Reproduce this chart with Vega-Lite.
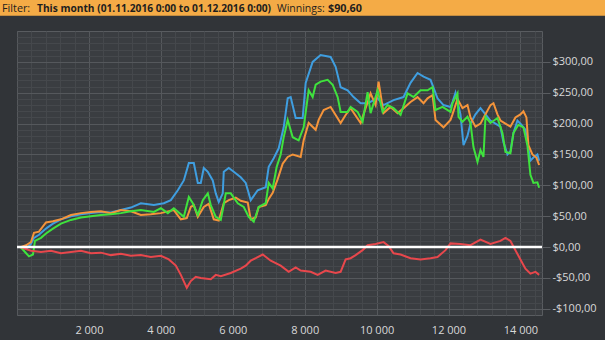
{
  "$schema": "https://vega.github.io/schema/vega-lite/v6.json",
  "width": 525,
  "height": 284,
  "autosize": {"type": "none"},
  "padding": {"left": 17, "top": 31, "right": 63, "bottom": 25},
  "background": "#313438",
  "config": {
    "view": {"fill": "#3a3d41", "stroke": "#595c60", "strokeWidth": 1},
    "font": "Open Sans"
  },
  "datasets": {
    "series": [
      {"s":"blue","x":100,"v":0},{"s":"blue","x":250,"v":-3},{"s":"blue","x":389,"v":5},{"s":"blue","x":472,"v":15},{"s":"blue","x":611,"v":20},{"s":"blue","x":806,"v":30},{"s":"blue","x":1000,"v":38},{"s":"blue","x":1222,"v":45},{"s":"blue","x":1500,"v":50},{"s":"blue","x":1778,"v":53},{"s":"blue","x":2056,"v":55},{"s":"blue","x":2333,"v":57},{"s":"blue","x":2611,"v":56},{"s":"blue","x":2889,"v":60},{"s":"blue","x":3167,"v":64},{"s":"blue","x":3444,"v":71},{"s":"blue","x":3806,"v":68},{"s":"blue","x":4083,"v":71},{"s":"blue","x":4278,"v":76},{"s":"blue","x":4472,"v":92},{"s":"blue","x":4639,"v":108},{"s":"blue","x":4778,"v":136},{"s":"blue","x":4917,"v":136},{"s":"blue","x":5028,"v":104},{"s":"blue","x":5111,"v":104},{"s":"blue","x":5194,"v":128},{"s":"blue","x":5306,"v":122},{"s":"blue","x":5444,"v":108},{"s":"blue","x":5528,"v":87},{"s":"blue","x":5611,"v":73},{"s":"blue","x":5722,"v":87},{"s":"blue","x":5750,"v":122},{"s":"blue","x":5889,"v":128},{"s":"blue","x":6028,"v":122},{"s":"blue","x":6222,"v":113},{"s":"blue","x":6361,"v":104},{"s":"blue","x":6500,"v":76},{"s":"blue","x":6694,"v":92},{"s":"blue","x":6917,"v":97},{"s":"blue","x":7000,"v":130},{"s":"blue","x":7139,"v":144},{"s":"blue","x":7278,"v":160},{"s":"blue","x":7417,"v":194},{"s":"blue","x":7528,"v":241},{"s":"blue","x":7611,"v":243},{"s":"blue","x":7750,"v":209},{"s":"blue","x":7944,"v":209},{"s":"blue","x":8028,"v":266},{"s":"blue","x":8222,"v":300},{"s":"blue","x":8444,"v":311},{"s":"blue","x":8722,"v":308},{"s":"blue","x":8861,"v":292},{"s":"blue","x":9000,"v":259},{"s":"blue","x":9194,"v":254},{"s":"blue","x":9361,"v":243},{"s":"blue","x":9556,"v":233},{"s":"blue","x":9750,"v":233},{"s":"blue","x":10028,"v":241},{"s":"blue","x":10194,"v":230},{"s":"blue","x":10472,"v":238},{"s":"blue","x":10750,"v":243},{"s":"blue","x":10944,"v":266},{"s":"blue","x":11139,"v":282},{"s":"blue","x":11306,"v":276},{"s":"blue","x":11500,"v":271},{"s":"blue","x":11694,"v":241},{"s":"blue","x":11861,"v":230},{"s":"blue","x":12056,"v":227},{"s":"blue","x":12111,"v":235},{"s":"blue","x":12194,"v":250},{"s":"blue","x":12333,"v":215},{"s":"blue","x":12417,"v":165},{"s":"blue","x":12528,"v":180},{"s":"blue","x":12611,"v":200},{"s":"blue","x":12750,"v":215},{"s":"blue","x":12889,"v":225},{"s":"blue","x":13028,"v":215},{"s":"blue","x":13167,"v":205},{"s":"blue","x":13306,"v":200},{"s":"blue","x":13444,"v":195},{"s":"blue","x":13528,"v":170},{"s":"blue","x":13639,"v":150},{"s":"blue","x":13722,"v":155},{"s":"blue","x":13806,"v":185},{"s":"blue","x":13917,"v":205},{"s":"blue","x":14000,"v":200},{"s":"blue","x":14139,"v":190},{"s":"blue","x":14194,"v":170},{"s":"blue","x":14278,"v":140},{"s":"blue","x":14361,"v":145},{"s":"blue","x":14472,"v":150},{"s":"blue","x":14520,"v":140},
      {"s":"orange","x":100,"v":0},{"s":"orange","x":250,"v":3},{"s":"orange","x":389,"v":8},{"s":"orange","x":472,"v":23},{"s":"orange","x":611,"v":25},{"s":"orange","x":806,"v":40},{"s":"orange","x":1000,"v":42},{"s":"orange","x":1222,"v":45},{"s":"orange","x":1500,"v":52},{"s":"orange","x":1778,"v":55},{"s":"orange","x":2056,"v":57},{"s":"orange","x":2333,"v":58},{"s":"orange","x":2611,"v":55},{"s":"orange","x":2889,"v":60},{"s":"orange","x":3167,"v":58},{"s":"orange","x":3444,"v":52},{"s":"orange","x":3722,"v":53},{"s":"orange","x":4000,"v":55},{"s":"orange","x":4361,"v":60},{"s":"orange","x":4556,"v":45},{"s":"orange","x":4722,"v":47},{"s":"orange","x":4833,"v":65},{"s":"orange","x":4917,"v":68},{"s":"orange","x":5028,"v":49},{"s":"orange","x":5194,"v":65},{"s":"orange","x":5333,"v":70},{"s":"orange","x":5472,"v":45},{"s":"orange","x":5611,"v":43},{"s":"orange","x":5750,"v":71},{"s":"orange","x":5889,"v":76},{"s":"orange","x":6083,"v":80},{"s":"orange","x":6222,"v":75},{"s":"orange","x":6417,"v":72},{"s":"orange","x":6500,"v":45},{"s":"orange","x":6639,"v":48},{"s":"orange","x":6722,"v":65},{"s":"orange","x":6917,"v":68},{"s":"orange","x":7000,"v":78},{"s":"orange","x":7111,"v":88},{"s":"orange","x":7250,"v":110},{"s":"orange","x":7389,"v":135},{"s":"orange","x":7528,"v":146},{"s":"orange","x":7667,"v":150},{"s":"orange","x":7889,"v":146},{"s":"orange","x":7972,"v":173},{"s":"orange","x":8111,"v":201},{"s":"orange","x":8306,"v":190},{"s":"orange","x":8389,"v":206},{"s":"orange","x":8528,"v":222},{"s":"orange","x":8722,"v":227},{"s":"orange","x":8861,"v":214},{"s":"orange","x":9000,"v":201},{"s":"orange","x":9139,"v":214},{"s":"orange","x":9278,"v":225},{"s":"orange","x":9556,"v":201},{"s":"orange","x":9833,"v":249},{"s":"orange","x":9972,"v":230},{"s":"orange","x":10056,"v":268},{"s":"orange","x":10194,"v":217},{"s":"orange","x":10389,"v":227},{"s":"orange","x":10583,"v":217},{"s":"orange","x":10750,"v":225},{"s":"orange","x":10944,"v":235},{"s":"orange","x":11139,"v":243},{"s":"orange","x":11306,"v":233},{"s":"orange","x":11417,"v":241},{"s":"orange","x":11556,"v":246},{"s":"orange","x":11639,"v":206},{"s":"orange","x":11861,"v":194},{"s":"orange","x":12056,"v":206},{"s":"orange","x":12111,"v":215},{"s":"orange","x":12250,"v":240},{"s":"orange","x":12389,"v":225},{"s":"orange","x":12528,"v":230},{"s":"orange","x":12611,"v":210},{"s":"orange","x":12750,"v":195},{"s":"orange","x":12889,"v":200},{"s":"orange","x":13028,"v":215},{"s":"orange","x":13167,"v":230},{"s":"orange","x":13250,"v":233},{"s":"orange","x":13361,"v":215},{"s":"orange","x":13444,"v":205},{"s":"orange","x":13583,"v":200},{"s":"orange","x":13722,"v":195},{"s":"orange","x":13861,"v":210},{"s":"orange","x":14000,"v":215},{"s":"orange","x":14083,"v":220},{"s":"orange","x":14167,"v":210},{"s":"orange","x":14222,"v":165},{"s":"orange","x":14333,"v":150},{"s":"orange","x":14444,"v":145},{"s":"orange","x":14520,"v":133},
      {"s":"green","x":100,"v":0},{"s":"green","x":222,"v":-8},{"s":"green","x":333,"v":-15},{"s":"green","x":444,"v":-12},{"s":"green","x":500,"v":10},{"s":"green","x":667,"v":15},{"s":"green","x":806,"v":22},{"s":"green","x":1000,"v":30},{"s":"green","x":1222,"v":38},{"s":"green","x":1500,"v":44},{"s":"green","x":1778,"v":48},{"s":"green","x":2056,"v":50},{"s":"green","x":2333,"v":52},{"s":"green","x":2611,"v":53},{"s":"green","x":2889,"v":55},{"s":"green","x":3167,"v":58},{"s":"green","x":3444,"v":60},{"s":"green","x":3806,"v":57},{"s":"green","x":4000,"v":63},{"s":"green","x":4194,"v":55},{"s":"green","x":4361,"v":63},{"s":"green","x":4639,"v":49},{"s":"green","x":4778,"v":81},{"s":"green","x":4889,"v":71},{"s":"green","x":5028,"v":52},{"s":"green","x":5167,"v":76},{"s":"green","x":5306,"v":87},{"s":"green","x":5389,"v":68},{"s":"green","x":5528,"v":49},{"s":"green","x":5667,"v":44},{"s":"green","x":5722,"v":60},{"s":"green","x":5806,"v":87},{"s":"green","x":5944,"v":87},{"s":"green","x":6139,"v":71},{"s":"green","x":6306,"v":65},{"s":"green","x":6444,"v":49},{"s":"green","x":6583,"v":41},{"s":"green","x":6722,"v":65},{"s":"green","x":6917,"v":71},{"s":"green","x":7000,"v":104},{"s":"green","x":7111,"v":95},{"s":"green","x":7222,"v":130},{"s":"green","x":7333,"v":150},{"s":"green","x":7417,"v":178},{"s":"green","x":7528,"v":206},{"s":"green","x":7667,"v":178},{"s":"green","x":7833,"v":173},{"s":"green","x":7972,"v":194},{"s":"green","x":8111,"v":254},{"s":"green","x":8222,"v":243},{"s":"green","x":8306,"v":263},{"s":"green","x":8444,"v":268},{"s":"green","x":8639,"v":271},{"s":"green","x":8778,"v":263},{"s":"green","x":8917,"v":243},{"s":"green","x":9000,"v":219},{"s":"green","x":9194,"v":219},{"s":"green","x":9278,"v":227},{"s":"green","x":9472,"v":219},{"s":"green","x":9611,"v":203},{"s":"green","x":9750,"v":251},{"s":"green","x":9833,"v":217},{"s":"green","x":10028,"v":254},{"s":"green","x":10167,"v":219},{"s":"green","x":10306,"v":230},{"s":"green","x":10472,"v":225},{"s":"green","x":10667,"v":214},{"s":"green","x":10861,"v":249},{"s":"green","x":11028,"v":243},{"s":"green","x":11222,"v":254},{"s":"green","x":11417,"v":254},{"s":"green","x":11556,"v":259},{"s":"green","x":11639,"v":222},{"s":"green","x":11833,"v":227},{"s":"green","x":12056,"v":219},{"s":"green","x":12111,"v":233},{"s":"green","x":12250,"v":249},{"s":"green","x":12278,"v":211},{"s":"green","x":12389,"v":203},{"s":"green","x":12528,"v":211},{"s":"green","x":12611,"v":201},{"s":"green","x":12694,"v":162},{"s":"green","x":12806,"v":138},{"s":"green","x":12889,"v":157},{"s":"green","x":12972,"v":146},{"s":"green","x":13028,"v":211},{"s":"green","x":13167,"v":201},{"s":"green","x":13361,"v":209},{"s":"green","x":13500,"v":185},{"s":"green","x":13583,"v":154},{"s":"green","x":13722,"v":152},{"s":"green","x":13806,"v":185},{"s":"green","x":13944,"v":198},{"s":"green","x":14083,"v":194},{"s":"green","x":14194,"v":165},{"s":"green","x":14278,"v":117},{"s":"green","x":14361,"v":104},{"s":"green","x":14472,"v":105},{"s":"green","x":14520,"v":96},
      {"s":"red","x":100,"v":0},{"s":"red","x":250,"v":-3},{"s":"red","x":389,"v":-6},{"s":"red","x":667,"v":-8},{"s":"red","x":944,"v":-6},{"s":"red","x":1222,"v":-10},{"s":"red","x":1500,"v":-8},{"s":"red","x":1778,"v":-6},{"s":"red","x":2056,"v":-10},{"s":"red","x":2333,"v":-9},{"s":"red","x":2611,"v":-13},{"s":"red","x":2889,"v":-11},{"s":"red","x":3167,"v":-14},{"s":"red","x":3444,"v":-13},{"s":"red","x":3722,"v":-16},{"s":"red","x":4000,"v":-14},{"s":"red","x":4222,"v":-20},{"s":"red","x":4417,"v":-30},{"s":"red","x":4556,"v":-45},{"s":"red","x":4722,"v":-66},{"s":"red","x":4833,"v":-55},{"s":"red","x":4972,"v":-48},{"s":"red","x":5111,"v":-50},{"s":"red","x":5389,"v":-52},{"s":"red","x":5528,"v":-45},{"s":"red","x":5667,"v":-47},{"s":"red","x":5944,"v":-42},{"s":"red","x":6222,"v":-35},{"s":"red","x":6361,"v":-30},{"s":"red","x":6500,"v":-22},{"s":"red","x":6639,"v":-18},{"s":"red","x":6833,"v":-12},{"s":"red","x":7056,"v":-22},{"s":"red","x":7333,"v":-30},{"s":"red","x":7556,"v":-40},{"s":"red","x":7750,"v":-33},{"s":"red","x":7889,"v":-38},{"s":"red","x":8167,"v":-40},{"s":"red","x":8361,"v":-45},{"s":"red","x":8583,"v":-38},{"s":"red","x":8861,"v":-42},{"s":"red","x":9000,"v":-40},{"s":"red","x":9139,"v":-20},{"s":"red","x":9278,"v":-18},{"s":"red","x":9417,"v":-13},{"s":"red","x":9611,"v":-5},{"s":"red","x":9750,"v":3},{"s":"red","x":9972,"v":5},{"s":"red","x":10194,"v":8},{"s":"red","x":10333,"v":2},{"s":"red","x":10472,"v":-10},{"s":"red","x":10667,"v":-12},{"s":"red","x":10944,"v":-18},{"s":"red","x":11222,"v":-20},{"s":"red","x":11500,"v":-18},{"s":"red","x":11694,"v":-16},{"s":"red","x":11917,"v":-5},{"s":"red","x":12056,"v":6},{"s":"red","x":12333,"v":5},{"s":"red","x":12611,"v":3},{"s":"red","x":12889,"v":12},{"s":"red","x":13167,"v":5},{"s":"red","x":13444,"v":10},{"s":"red","x":13583,"v":15},{"s":"red","x":13722,"v":10},{"s":"red","x":13861,"v":-5},{"s":"red","x":14000,"v":-20},{"s":"red","x":14139,"v":-35},{"s":"red","x":14278,"v":-43},{"s":"red","x":14417,"v":-40},{"s":"red","x":14520,"v":-45}
    ]
  },
  "layer": [
    {
      "data": {"name": "series"},
      "mark": {"type": "line", "strokeWidth": 2, "clip": true},
      "encoding": {
        "x": {
          "field": "x", "type": "quantitative",
          "scale": {"domain": [0, 14600], "nice": false, "zero": false},
          "axis": {
            "values": [0,400,800,1200,1600,2000,2400,2800,3200,3600,4000,4400,4800,5200,5600,6000,6400,6800,7200,7600,8000,8400,8800,9200,9600,10000,10400,10800,11200,11600,12000,12400,12800,13200,13600,14000,14400],
            "tickCount": 200,
            "grid": true,
            "gridColor": {"condition": {"test": "datum.value % 2000 === 0", "value": "#55585c"}, "value": "#45484c"},
            "gridWidth": 1,
            "ticks": false,
            "domain": false,
            "labelExpr": "datum.value > 0 && datum.value % 2000 === 0 ? replace(format(datum.value, ','), ',', ' ') : ''",
            "labelColor": "#d8d8d8",
            "labelFontSize": 11,
            "labelFont": "Open Sans",
            "labelPadding": 9,
            "labelOverlap": false,
            "labelFlush": false,
            "labelBound": false,
            "title": null
          }
        },
        "y": {
          "field": "v", "type": "quantitative",
          "scale": {"domain": [-110, 350], "nice": false, "zero": false},
          "axis": {
            "orient": "right",
            "values": [-100,-90,-80,-70,-60,-50,-40,-30,-20,-10,0,10,20,30,40,50,60,70,80,90,100,110,120,130,140,150,160,170,180,190,200,210,220,230,240,250,260,270,280,290,300,310,320,330,340],
            "tickCount": 200,
            "grid": true,
            "gridColor": {"condition": {"test": "datum.value % 50 === 0", "value": "#55585c"}, "value": "#45484c"},
            "gridWidth": 1,
            "ticks": true,
            "tickSize": 8,
            "tickColor": "#5a5d61",
            "tickOpacity": {"condition": {"test": "datum.value % 50 === 0", "value": 1}, "value": 0},
            "domain": false,
            "labelExpr": "datum.value % 50 === 0 ? (datum.value < 0 ? '-$' : '$') + replace(format(abs(datum.value), '.2f'), '.', ',') : ''",
            "labelColor": "#d8d8d8",
            "labelFontSize": 11,
            "labelFont": "Open Sans",
            "labelPadding": 2,
            "labelOverlap": false,
            "labelFlush": false,
            "labelBound": false,
            "title": null
          }
        },
        "color": {
          "field": "s", "type": "nominal",
          "scale": {"domain": ["blue", "orange", "green", "red"], "range": ["#3f9ee0", "#f5943a", "#3fe23d", "#e8474c"]},
          "legend": null
        }
      }
    },
    {
      "data": {"values": [{}]},
      "mark": {"type": "rule", "color": "#ffffff", "strokeWidth": 2.5},
      "encoding": {"y": {"datum": 0}}
    },
    {
      "data": {"values": [{}]},
      "mark": {"type": "rect", "color": "#f4ab46", "clip": false},
      "encoding": {
        "x": {"datum": -473}, "x2": {"datum": 16352},
        "y": {"datum": 400.2}, "y2": {"datum": 374.5}
      }
    },
    {
      "data": {"values": [{}]},
      "mark": {"type": "text", "align": "left", "baseline": "alphabetic", "fontSize": 10.8, "font": "Open Sans", "color": "#1e1e1e", "fontWeight": "normal"},
      "encoding": {"x": {"datum": -417}, "y": {"datum": 381.3}, "text": {"value": "Filter:"}}
    },
    {
      "data": {"values": [{}]},
      "mark": {"type": "text", "align": "left", "baseline": "alphabetic", "fontSize": 10.2, "font": "Open Sans", "color": "#1e1e1e", "fontWeight": "bold"},
      "encoding": {"x": {"datum": 556}, "y": {"datum": 381.3}, "text": {"value": "This month (01.11.2016 0:00 to 01.12.2016 0:00)"}}
    },
    {
      "data": {"values": [{}]},
      "mark": {"type": "text", "align": "left", "baseline": "alphabetic", "fontSize": 10.5, "font": "Open Sans", "color": "#1e1e1e", "fontWeight": "normal"},
      "encoding": {"x": {"datum": 7230}, "y": {"datum": 381.3}, "text": {"value": "Winnings:"}}
    },
    {
      "data": {"values": [{}]},
      "mark": {"type": "text", "align": "left", "baseline": "alphabetic", "fontSize": 10.8, "font": "Open Sans", "color": "#1e1e1e", "fontWeight": "bold"},
      "encoding": {"x": {"datum": 8649}, "y": {"datum": 381.3}, "text": {"value": "$90,60"}}
    }
  ]
}
